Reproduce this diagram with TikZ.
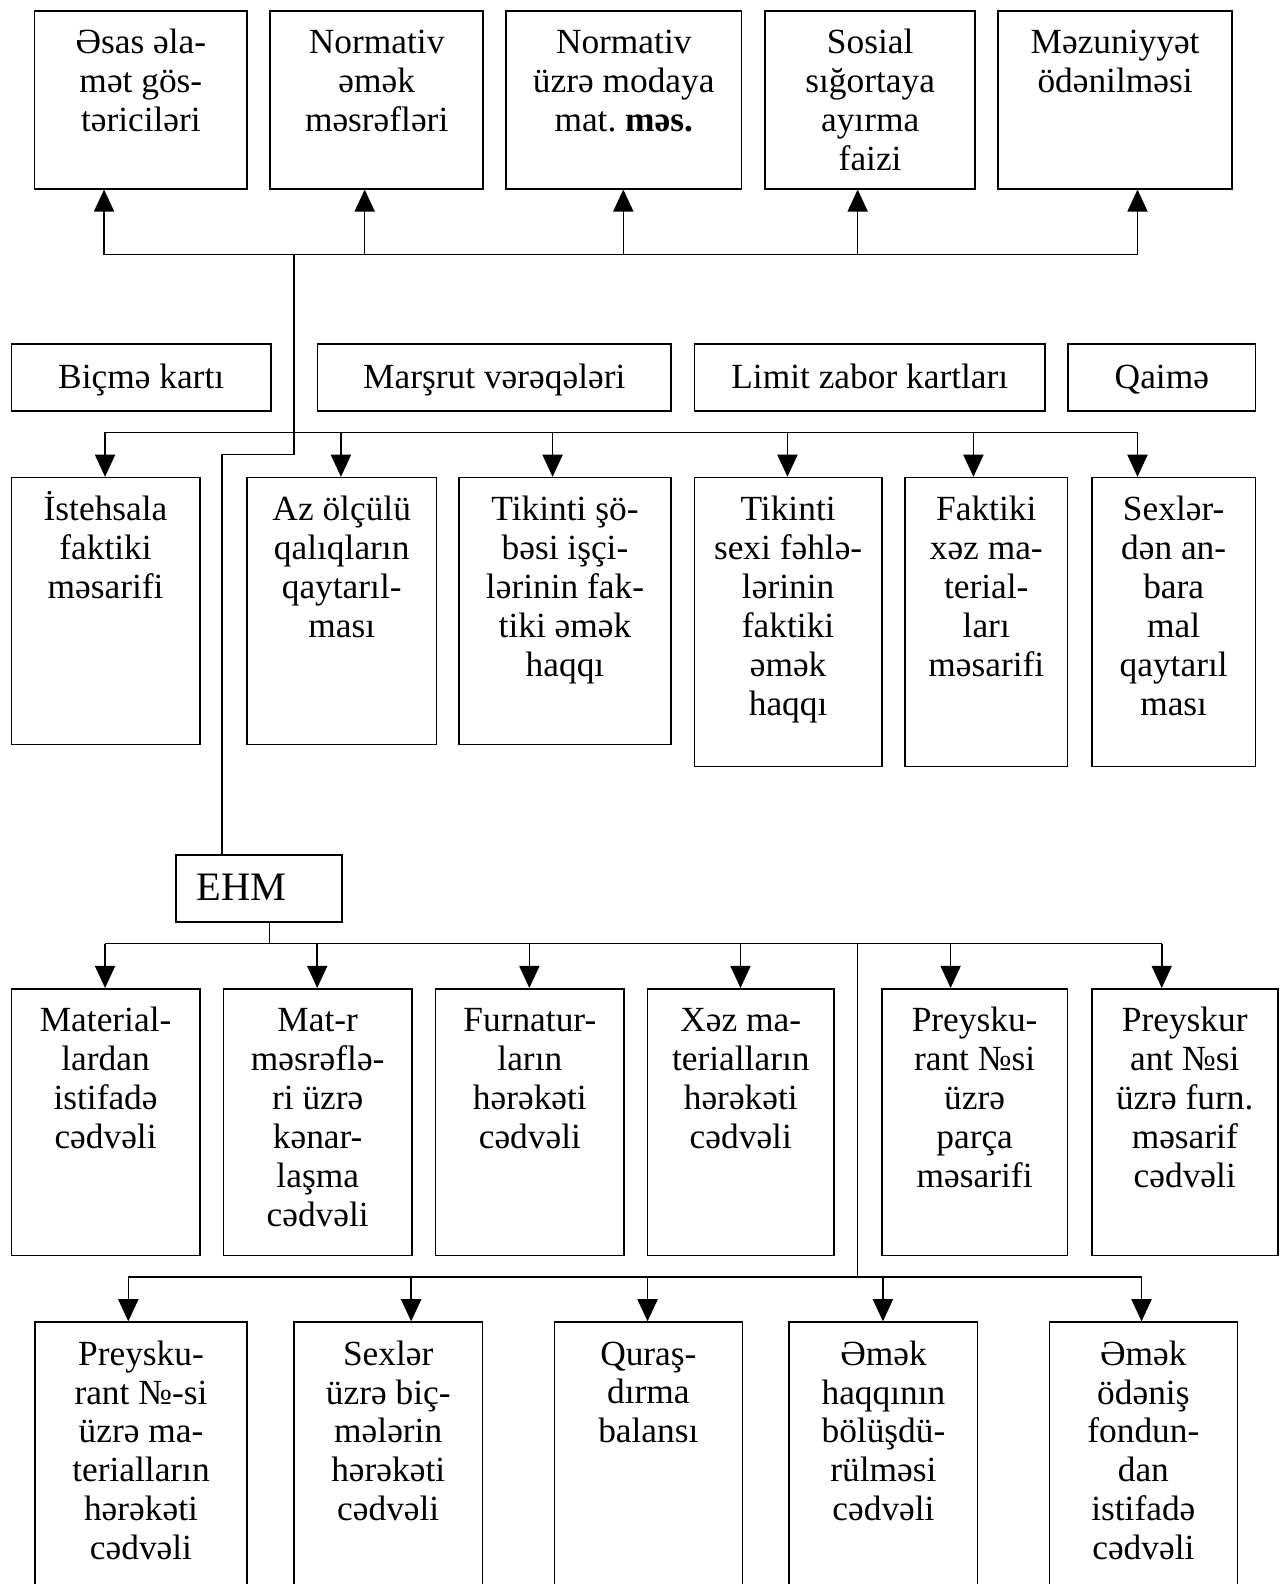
\documentclass[tikz,border=0pt]{standalone}
\usepackage{fontspec}
\setmainfont{Liberation Serif}
\usetikzlibrary{arrows.meta}
\newcommand\tstr{\rule{0pt}{34pt}}
\newcommand\mybox[6]{%
  \node[box, minimum width={#4-#2}, minimum height={#5-#3}] (#1) at (#2,#3) {};
  \node[txt, anchor=north] (#1t) at ([yshift=-9pt]#1.north) {\tstr #6};
}
\begin{document}
\begin{tikzpicture}[x=1pt,y=-1pt,
  box/.style={draw, line width=1.6pt, inner sep=0pt, anchor=north west},
  txt/.style={font=\fontsize{35pt}{38.6pt}\selectfont, align=center, inner sep=0pt},
  doc/.style={box, font=\fontsize{35pt}{38.6pt}\selectfont, text height=22pt, text depth=0pt, minimum height=66pt},
  ln/.style={line width=1.5pt},
  arr/.style={line width=1.5pt, -{Triangle[length=22pt,width=20pt]}}]
\useasboundingbox (0,0) rectangle (1272,1568);
% ---------- top row
\mybox{t1}{33.3}{10}{244}{186}{Əsas əla-\\mət gös-\\təriciləri}
\mybox{t2}{266.7}{10}{477.4}{186}{Normativ\\əmək\\məsrəfləri}
\mybox{t3}{500}{10}{733.3}{186}{Normativ\\üzrə modaya\\mat.\ \textbf{məs.}}
\mybox{t4}{756.5}{10}{964.6}{186}{Sosial\\sığortaya\\ayırma\\faizi}
\mybox{t5}{987}{10}{1219}{186}{Məzuniyyət\\ödənilməsi}
% ---------- documents row
\node[doc, minimum width=257.1pt] (d1) at (10.4,340) {Biçmə kartı};
\node[doc, minimum width=350.4pt] (d2) at (313.3,340) {Marşrut vərəqələri};
\node[doc, minimum width=346.9pt] (d3) at (686.7,340) {Limit zabor kartları};
\node[doc, minimum width=185.4pt] (d4) at (1056.6,340) {Qaimə};
% ---------- third row
\mybox{r1}{10.4}{472}{197}{736}{İstehsala\\faktiki\\məsarifi}
\mybox{r2}{243.7}{472}{431.2}{736}{Az ölçülü\\qalıqların\\qaytarıl-\\ması}
\mybox{r3}{453.3}{472}{663.7}{736}{Tikinti şö-\\bəsi işçi-\\lərinin fak-\\tiki əmək\\haqqı}
\mybox{r4}{686.7}{472}{872}{758}{Tikinti\\sexi fəhlə-\\lərinin\\faktiki\\əmək\\haqqı}
\mybox{r5}{895}{472}{1056}{758}{Faktiki\\xəz ma-\\terial-\\ları\\məsarifi}
\mybox{r6}{1080}{472}{1242}{758}{Sexlər-\\dən an-\\bara\\mal\\qaytarıl\\ması}
% ---------- EHM
\node[box, minimum width=163.8pt, minimum height=66pt] (ehm) at (173.7,845.7) {};
\node[inner sep=0pt, font=\fontsize{40pt}{44pt}\selectfont, anchor=base west] (ehmt) at ([xshift=21pt,yshift=-12pt]ehm.west) {EHM};
% ---------- fourth row
\mybox{m1}{10.4}{978}{197}{1242}{Material-\\lardan\\istifadə\\cədvəli}
\mybox{m2}{220.4}{978}{407}{1242}{Mat-r\\məsrəflə-\\ri üzrə\\kənar-\\laşma\\cədvəli}
\mybox{m3}{430.4}{978}{617}{1242}{Furnatur-\\ların\\hərəkəti\\cədvəli}
\mybox{m4}{640}{978}{825}{1242}{Xəz ma-\\terialların\\hərəkəti\\cədvəli}
\mybox{m5}{872}{978}{1056}{1242}{Preysku-\\rant №si\\üzrə\\parça\\məsarifi}
\mybox{m6}{1080}{978}{1264}{1242}{Preyskur\\ant №si\\üzrə furn.\\məsarif\\cədvəli}
% ---------- fifth row (cut by the page bottom)
\mybox{b1}{34}{1308}{243.5}{1620}{Preysku-\\rant №-si\\üzrə ma-\\terialların\\hərəkəti\\cədvəli}
\mybox{b2}{290}{1308}{477}{1620}{Sexlər\\üzrə biç-\\mələrin\\hərəkəti\\cədvəli}
\mybox{b3}{548}{1308}{734}{1620}{Quraş-\\dırma\\balansı}
\mybox{b4}{780.5}{1308}{967}{1620}{Əmək\\haqqının\\bölüşdü-\\rülməsi\\cədvəli}
\mybox{b5}{1038}{1308}{1224}{1620}{Əmək\\ödəniş\\fondun-\\dan\\istifadə\\cədvəli}
% ---------- connectors: top bus
\coordinate (ta) at (103,252);
\coordinate (tb) at (1126,252);
\draw[ln] (ta) -- (tb);
\draw[arr] (ta) -- (ta |- t1.south);
\draw[arr] (361,252) -- (361,252 |- t2.south);
\draw[arr] (617,252) -- (617,252 |- t3.south);
\draw[arr] (849,252) -- (849,252 |- t4.south);
\draw[arr] (tb) -- (tb |- t5.south);
% trunk
\coordinate (j1) at (291,252);
\coordinate (j2) at (291,450);
\coordinate (j3) at (220,450);
\draw[ln] (j1) -- (j2) -- (j3) -- (j3 |- ehm.north);
% third row bus
\coordinate (ra) at (104,428);
\coordinate (rb) at (1126,428);
\draw[ln] (ra) -- (rb);
\draw[arr] (ra) -- (ra |- r1.north);
\draw[arr] (337.5,428) -- (337.5,428 |- r2.north);
\draw[arr] (547,428) -- (547,428 |- r3.north);
\draw[arr] (779.5,428) -- (779.5,428 |- r4.north);
\draw[arr] (963.6,428) -- (963.6,428 |- r5.north);
\draw[arr] (rb) -- (rb |- r6.north);
% fourth row bus
\coordinate (e1) at (267,934);
\coordinate (ma) at (104,934);
\coordinate (mb) at (1150,934);
\draw[ln] (e1 |- ehm.south) -- (e1);
\draw[ln] (ma) -- (mb);
\draw[arr] (ma) -- (ma |- m1.north);
\draw[arr] (314,934) -- (314,934 |- m2.north);
\draw[arr] (524,934) -- (524,934 |- m3.north);
\draw[arr] (733,934) -- (733,934 |- m4.north);
\draw[arr] (941,934) -- (941,934 |- m5.north);
\draw[arr] (mb) -- (mb |- m6.north);
% fifth row bus
\coordinate (v1) at (849,934);
\coordinate (v2) at (849,1264);
\coordinate (ba) at (127,1264);
\coordinate (bb) at (1130,1264);
\draw[ln] (v1) -- (v2);
\draw[ln] (ba) -- (bb);
\draw[arr] (ba) -- (ba |- b1.north);
\draw[arr] (407,1264) -- (407,1264 |- b2.north);
\draw[arr] (641,1264) -- (641,1264 |- b3.north);
\draw[arr] (874,1264) -- (874,1264 |- b4.north);
\draw[arr] (bb) -- (bb |- b5.north);
\end{tikzpicture}
\end{document}
